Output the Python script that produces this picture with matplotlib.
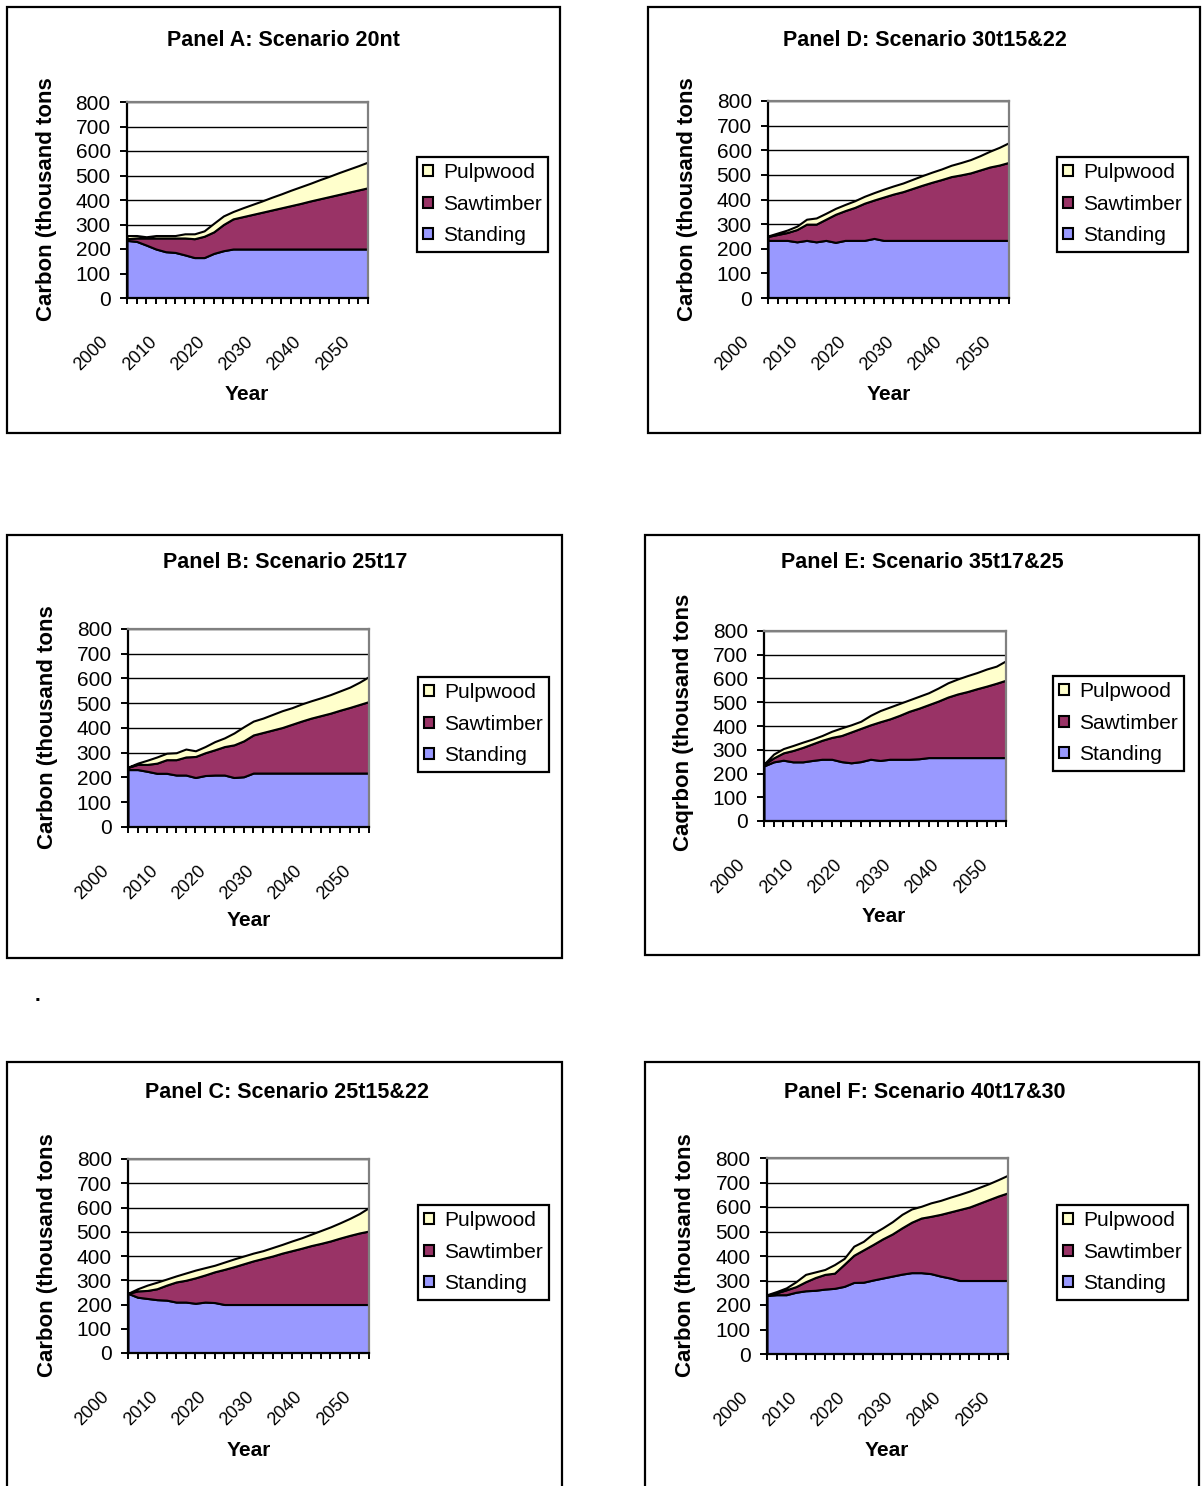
import matplotlib.pyplot as plt
import matplotlib.transforms as mtransforms
from matplotlib.patches import Rectangle, Patch
import numpy as np

plt.rcParams['font.family'] = ['Liberation Sans', 'DejaVu Sans']

W, H = 1202, 1486

years = np.arange(2000, 2051, 2)
series_names = ['Standing', 'Sawtimber', 'Pulpwood']
series_colors = ['#9999ff', '#993366', '#ffffcc']
y_ticks = [0, 100, 200, 300, 400, 500, 600, 700, 800]
x_labels = [2000, 2010, 2020, 2030, 2040, 2050]

titles = ['Panel A: Scenario 20nt', 'Panel D: Scenario 30t15&22',
          'Panel B: Scenario 25t17', 'Panel E: Scenario 35t17&25',
          'Panel C: Scenario 25t15&22', 'Panel F: Scenario 40t17&30']
ylabels = ['Carbon (thousand tons', 'Carbon (thousand tons',
           'Carbon (thousand tons', 'Caqrbon (thousand tons',
           'Carbon (thousand tons', 'Carbon (thousand tons']

# carbon by pool, thousand tons, every second year 2000-2050
standing_a = [235, 231, 216, 200, 189, 186, 176, 165, 165, 182, 193, 200, 200,
              200, 200, 200, 200, 200, 200, 200, 200, 200, 200, 200, 200, 200]
sawtimber_a = [7, 14, 29, 45, 56, 59, 69, 77, 87, 88, 107, 123, 132,
               141, 150, 159, 168, 177, 186, 196, 205, 214, 223, 232, 241, 250]
pulpwood_a = [13, 10, 5, 10, 10, 10, 17, 20, 22, 35, 35, 30, 36,
              41, 46, 52, 57, 63, 68, 72, 78, 83, 89, 94, 99, 105]

standing_d = [234, 234, 234, 228, 234, 228, 234, 226, 234, 234, 234, 242, 234,
              234, 234, 234, 234, 234, 234, 234, 234, 234, 234, 234, 234, 234]
sawtimber_d = [16, 24, 32, 50, 66, 72, 86, 114, 121, 134, 151, 156, 176,
               188, 198, 211, 224, 236, 247, 259, 266, 274, 286, 298, 306, 317]
pulpwood_d = [2, 6, 10, 14, 20, 25, 24, 24, 25, 27, 28, 30, 32,
              33, 35, 37, 39, 41, 43, 46, 50, 54, 58, 64, 72, 80]

standing_b = [232, 232, 225, 217, 217, 210, 210, 200, 208, 210, 210, 200, 203,
              218, 218, 218, 218, 218, 218, 218, 218, 218, 218, 218, 218, 218]
sawtimber_b = [9, 21, 28, 41, 55, 62, 73, 85, 92, 102, 115, 132, 145,
               154, 164, 174, 184, 197, 210, 222, 232, 242, 254, 265, 277, 289]
pulpwood_b = [1, 5, 17, 25, 26, 28, 32, 23, 25, 33, 35, 48, 57,
              56, 58, 63, 68, 67, 69, 70, 72, 75, 78, 82, 90, 101]

standing_e = [232, 249, 256, 249, 249, 255, 260, 260, 250, 245, 250, 260, 255,
              260, 260, 260, 262, 267, 267, 267, 267, 267, 267, 267, 267, 267]
sawtimber_e = [7, 17, 31, 48, 61, 70, 80, 92, 110, 130, 140, 145, 163,
               170, 185, 202, 213, 223, 238, 255, 268, 278, 290, 301, 313, 326]
pulpwood_e = [1, 16, 18, 21, 22, 20, 20, 26, 32, 30, 30, 40, 47,
              50, 50, 48, 50, 50, 55, 60, 63, 67, 68, 72, 72, 82]

standing_c = [246, 230, 225, 220, 218, 210, 210, 205, 210, 208, 200, 200, 200,
              200, 200, 200, 200, 200, 200, 200, 200, 200, 200, 200, 200, 200]
sawtimber_c = [0, 26, 33, 45, 62, 83, 90, 105, 112, 127, 145, 156, 168,
               180, 190, 200, 212, 222, 232, 243, 252, 262, 274, 285, 295, 303]
pulpwood_c = [0, 9, 22, 27, 25, 25, 30, 32, 30, 27, 30, 32, 32,
              32, 32, 35, 36, 40, 43, 47, 53, 58, 63, 70, 80, 97]

standing_f = [239, 242, 242, 252, 258, 260, 265, 268, 276, 292, 293, 302, 310,
              318, 326, 332, 332, 328, 318, 310, 300, 300, 300, 300, 300, 300]
sawtimber_f = [0, 8, 20, 23, 37, 52, 60, 62, 90, 111, 132, 145, 160,
               172, 189, 206, 223, 234, 252, 270, 290, 300, 315, 330, 345, 358]
pulpwood_f = [3, 5, 8, 20, 30, 23, 20, 35, 24, 37, 35, 45, 45,
              50, 55, 54, 48, 55, 57, 60, 62, 65, 65, 65, 67, 72]

panel_data = [
    (standing_a, sawtimber_a, pulpwood_a),
    (standing_d, sawtimber_d, pulpwood_d),
    (standing_b, sawtimber_b, pulpwood_b),
    (standing_e, sawtimber_e, pulpwood_e),
    (standing_c, sawtimber_c, pulpwood_c),
    (standing_f, sawtimber_f, pulpwood_f),
]

# pixel layout of each chart object: frame, plot area, legend corner,
# title centre, y label centre, x label centre
layout = [
    dict(frame=(7, 7, 560, 433), plot=(127, 102, 368, 298), legend=(417, 157),
         title=(283, 40), ylab=(47, 199), xlab=(247, 395)),
    dict(frame=(648, 7, 1200, 433), plot=(768, 101, 1009, 298), legend=(1057, 157),
         title=(925, 40), ylab=(688, 199), xlab=(889, 395)),
    dict(frame=(7, 535, 562, 958), plot=(128, 629, 369, 827), legend=(418, 677),
         title=(285, 563), ylab=(48, 727), xlab=(249, 921)),
    dict(frame=(645, 535, 1199, 955), plot=(764, 631, 1006, 821), legend=(1053, 676),
         title=(922, 563), ylab=(683, 722), xlab=(884, 917)),
    dict(frame=(7, 1062, 562, 1492), plot=(128, 1159, 369, 1353), legend=(418, 1205),
         title=(287, 1092), ylab=(48, 1255), xlab=(249, 1450)),
    dict(frame=(645, 1062, 1199, 1492), plot=(767, 1158, 1008, 1354), legend=(1057, 1205),
         title=(925, 1093), ylab=(686, 1255), xlab=(887, 1451)),
]

fig = plt.figure(figsize=(W / 100, H / 100), dpi=100)
fig.patch.set_facecolor('white')

narrow = ['Liberation Sans Narrow', 'Liberation Sans', 'DejaVu Sans']

for title, ylabel, pools, lay in zip(titles, ylabels, panel_data, layout):
    fx0, fy0, fx1, fy1 = lay['frame']
    fig.add_artist(Rectangle((fx0 / W, 1 - fy1 / H), (fx1 - fx0) / W, (fy1 - fy0) / H,
                             transform=fig.transFigure, fill=False,
                             edgecolor='black', linewidth=1.6))

    px0, py0, px1, py1 = lay['plot']
    ax = fig.add_axes([px0 / W, 1 - py1 / H, (px1 - px0) / W, (py1 - py0) / H])

    ax.stackplot(years, *pools, colors=series_colors,
                 edgecolor='black', linewidth=1.5)

    ax.set_xlim(2000, 2050)
    ax.set_ylim(0, 800)
    ax.set_yticks(y_ticks)
    ax.set_xticks(x_labels)
    ax.set_xticks(years, minor=True)
    ax.set_xticklabels([str(y) for y in x_labels])

    ax.set_axisbelow(True)
    ax.yaxis.grid(True, color='black', linewidth=1.0)

    for side in ('left', 'bottom'):
        ax.spines[side].set_color('black')
        ax.spines[side].set_linewidth(1.6)
    for side in ('top', 'right'):
        ax.spines[side].set_color('#808080')
        ax.spines[side].set_linewidth(1.6)

    ax.tick_params(axis='y', direction='out', length=4.7, width=1.4,
                   pad=7, labelsize=15)
    ax.tick_params(axis='x', which='both', direction='out', length=4.5, width=1.4)
    ax.tick_params(axis='x', which='major', pad=21, labelsize=13,
                   labelrotation=45)

    shift = mtransforms.ScaledTranslation(-15 / 100, 0, fig.dpi_scale_trans)
    for lab in ax.get_xticklabels():
        lab.set_ha('right')
        lab.set_va('top')
        lab.set_family(narrow)
        lab.set_transform(lab.get_transform() + shift)

    pw, ph = px1 - px0, py1 - py0
    ax.set_ylabel(ylabel, fontsize=16, fontweight='bold')
    ax.yaxis.set_label_coords((lay['ylab'][0] - px0) / pw, (py1 - lay['ylab'][1]) / ph)
    ax.yaxis.label.set_va('center')
    ax.yaxis.label.set_ha('center')

    ax.set_xlabel('Year', fontsize=15, fontweight='bold')
    ax.xaxis.set_label_coords((lay['xlab'][0] - px0) / pw, (py1 - lay['xlab'][1]) / ph)
    ax.xaxis.label.set_va('center')

    fig.text(lay['title'][0] / W, 1 - lay['title'][1] / H, title,
             fontsize=15.5, fontweight='bold', ha='center', va='center')

    handles = [Patch(facecolor=c, edgecolor='black', linewidth=1.5, label=n)
               for n, c in zip(series_names, series_colors)][::-1]
    lx, ly = lay['legend']
    leg = ax.legend(handles=handles, loc='upper left',
                    bbox_to_anchor=(lx / W, 1 - ly / H),
                    bbox_transform=fig.transFigure, borderaxespad=0,
                    fontsize=15, frameon=True, fancybox=False, framealpha=1,
                    edgecolor='black', borderpad=0.3, labelspacing=0.6,
                    handlelength=0.45, handleheight=0.45, handletextpad=0.5)
    leg.get_frame().set_linewidth(1.6)

fig.text(37 / W, 1 - 1001 / H, '.', fontsize=15, fontweight='bold',
         ha='center', va='baseline')

fig.savefig('out.png', dpi=100, facecolor='white')
